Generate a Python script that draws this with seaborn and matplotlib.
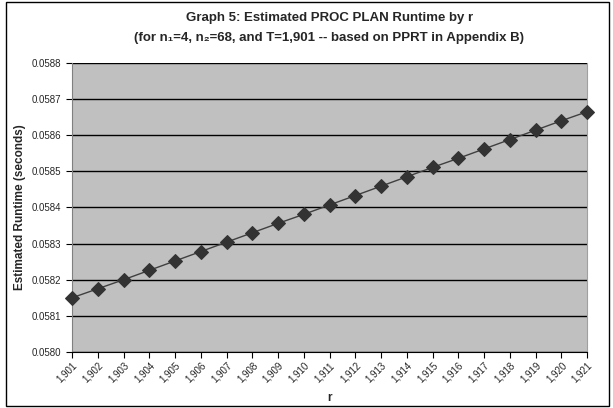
import matplotlib
matplotlib.use("Agg")
import matplotlib.pyplot as plt
from matplotlib.patches import Rectangle
from matplotlib.ticker import FuncFormatter, MultipleLocator
import pandas as pd
import seaborn as sns

# values
r_values = [1901, 1902, 1903, 1904, 1905, 1906, 1907, 1908, 1909, 1910, 1911,
            1912, 1913, 1914, 1915, 1916, 1917, 1918, 1919, 1920, 1921]
runtime = [0.058150, 0.058175, 0.058200, 0.058226, 0.058252, 0.058278, 0.058304,
           0.058330, 0.058356, 0.058381, 0.058407, 0.058433, 0.058459, 0.058485,
           0.058511, 0.058536, 0.058562, 0.058588, 0.058614, 0.058640, 0.058665]

df = pd.DataFrame({"r": r_values, "runtime": runtime})

sns.set_style("white")
plt.rcParams["font.family"] = ["Liberation Sans", "DejaVu Sans"]

fig = plt.figure(figsize=(6.13, 4.08), dpi=100)
ax = fig.add_axes([0.1175, 0.1373, 0.8401, 0.7083])
ax.set_facecolor("#C0C0C0")

sns.lineplot(data=df, x="r", y="runtime", ax=ax, color="#404040", linewidth=1.0,
             marker="D", markersize=7.5, markerfacecolor="#333333",
             markeredgecolor="#333333", clip_on=False, zorder=3)

ax.set_xlim(1901, 1921)
ax.set_ylim(0.0580, 0.0588)
ax.yaxis.set_major_locator(MultipleLocator(0.0001))
ax.yaxis.set_major_formatter(FuncFormatter(lambda v, p: f"{v:.4f}"))
ax.set_xticks(r_values)
ax.set_xticklabels([f"{v:,}" for v in r_values], rotation=45, ha="right",
                   rotation_mode="anchor")
ax.grid(axis="y", color="black", linewidth=1.0)
ax.set_axisbelow(True)

ax.spines["top"].set_visible(False)
ax.spines["left"].set_color("#808080")
ax.spines["bottom"].set_color("black")
ax.spines["right"].set_color("#A0A0A0")
ax.tick_params(axis="both", which="major", labelsize=7, direction="out",
               length=4, width=0.8, bottom=True, left=True, color="black")
ax.tick_params(axis="x", pad=2)

ax.set_xlabel("r", fontsize=8.5, fontweight="bold", labelpad=5)
ax.set_ylabel("Estimated Runtime (seconds)", fontsize=8.5, fontweight="bold")

fig.text(0.537, 0.955, "Graph 5: Estimated PROC PLAN Runtime by r",
         ha="center", va="center", fontsize=9.5, fontweight="bold")
fig.text(0.537, 0.908,
         "(for n\u2081=4, n\u2082=68, and T=1,901 -- based on PPRT in Appendix B)",
         ha="center", va="center", fontsize=9.5, fontweight="bold")

fig.patches.append(Rectangle((0.009, 0.004), 0.985, 0.99, transform=fig.transFigure,
                             fill=False, edgecolor="black", linewidth=1.0))

fig.savefig("out.png", dpi=100)
